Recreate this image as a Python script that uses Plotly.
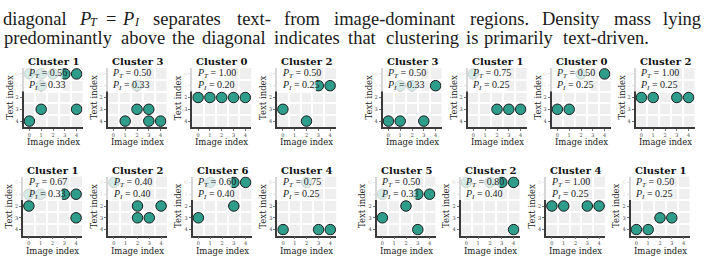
import plotly.graph_objects as go

# ---------------- data ----------------
titles = ["Cluster 1", "Cluster 3", "Cluster 0", "Cluster 2", "Cluster 3", "Cluster 1", "Cluster 0", "Cluster 2",
          "Cluster 1", "Cluster 2", "Cluster 6", "Cluster 4", "Cluster 5", "Cluster 2", "Cluster 4", "Cluster 1"]
p_text = [0.56, 0.50, 1.00, 0.50, 0.50, 0.75, 0.50, 1.00,
          0.67, 0.40, 0.60, 0.75, 0.50, 0.80, 1.00, 0.50]
p_image = [0.33, 0.33, 0.20, 0.25, 0.33, 0.25, 0.25, 0.25,
           0.33, 0.40, 0.40, 0.25, 0.33, 0.40, 0.25, 0.25]
image_idx = [
    [0, 1, 2, 3, 4, 1, 1, 4, 0],
    [2, 2, 3, 1, 3, 4],
    [0, 1, 2, 3, 4],
    [3, 4, 0, 2],
    [1, 2, 4, 0, 1, 3],
    [0, 2, 3, 4],
    [2, 4, 0, 1],
    [0, 1, 3, 4],
    [0, 1, 3, 4, 0, 4],
    [0, 2, 4, 2, 3],
    [1, 3, 4, 3, 0],
    [2, 0, 3, 4],
    [0, 3, 4, 2, 0, 3],
    [0, 2, 3, 4, 4],
    [0, 1, 3, 4],
    [0, 1, 2, 3],
]
text_idx = [
    [0, 0, 0, 0, 0, 1, 3, 3, 4],
    [1, 3, 3, 4, 4, 4],
    [2, 2, 2, 2, 2],
    [1, 1, 3, 4],
    [1, 1, 1, 4, 4, 4],
    [0, 3, 3, 3],
    [0, 0, 3, 3],
    [2, 2, 2, 2],
    [1, 1, 1, 1, 2, 3],
    [0, 2, 2, 3, 3],
    [0, 0, 0, 2, 3],
    [0, 4, 4, 4],
    [1, 1, 1, 2, 3, 4],
    [0, 0, 0, 0, 4],
    [2, 2, 2, 2],
    [4, 4, 3, 3],
]
tick_vals = [0, 1, 2, 3, 4]
tick_labels = ["0", "1", "2", "3", "4"]

line1_words = ["diagonal", "<i>P</i>", "<i>T</i>", "=", "<i>P</i>", "<i>I</i>", "separates", "text-",
               "from", "image-dominant", "regions.", "Density", "mass", "lying"]
line2_words = ["predominantly", "above", "the", "diagonal", "indicates", "that", "clustering", "is",
               "primarily", "text-driven."]

# ---------------- layout geometry (pixels) ----------------
W, H = 704, 258
line1_cx = [34.5, 85.0, 94.4, 110.7, 128.2, 136.6, 187.2, 253.6, 302.4, 395.3, 499.7, 571.4, 632.2, 682.3]
line1_size = [18.5, 18.5, 12, 18.5, 18.5, 12, 18.5, 18.5, 18.5, 18.5, 18.5, 18.5, 18.5, 18.5]
line1_dy = [0, 0, 3, 0, 0, 3, 0, 0, 0, 0, 0, 0, 0, 0]
line2_cx = [58.4, 143, 183.5, 234.2, 306.5, 362.6, 422.2, 471.5, 519, 605.9]
line_mid_y = [19.0, 38.0]
row_top = [68, 176.5]
plot_w, plot_h = 59, 59
col_centers = [[53, 137, 221.7, 306.5, 412, 497, 581, 665],
               [52.5, 137.5, 222, 306.7, 406, 490, 575.5, 660]]

SERIF = "DejaVu Serif"
TEXT_SERIF = "Liberation Serif"
TEAL = "#2e9d8c"


def px(x):
    return x / W


def py(y):
    return 1 - y / H


fig = go.Figure()
shapes = []
annotations = []
layout_axes = {}

for i in range(16):
    r, c = divmod(i, 8)
    k = i + 1
    cx = col_centers[r][c]
    left, right = cx - plot_w / 2, cx + plot_w / 2
    top = row_top[r]
    bottom = top + plot_h
    cell = plot_h / 5
    xa = "x" if k == 1 else f"x{k}"
    ya = "y" if k == 1 else f"y{k}"
    fig.add_trace(go.Scatter(
        x=image_idx[i], y=text_idx[i], mode="markers", xaxis=xa, yaxis=ya,
        marker=dict(size=10.5, color=TEAL, line=dict(color="#1a1a1a", width=1)),
        showlegend=False, hoverinfo="skip"))
    common = dict(
        tickmode="array", tickvals=tick_vals, ticktext=tick_labels,
        tickfont=dict(family=SERIF, size=5, color="#444"),
        ticks="outside", ticklen=2, tickwidth=0.6, tickcolor="#777",
        showgrid=False, zeroline=False, showline=True, linecolor="#3a3a3a", linewidth=1.5,
        minor=dict(tickmode="array", tickvals=[0.5, 1.5, 2.5, 3.5], showgrid=True,
                   gridcolor="white", gridwidth=1.6, ticks=""),
        fixedrange=True,
    )
    layout_axes["xaxis" if k == 1 else f"xaxis{k}"] = dict(
        common, domain=[px(left), px(right)], anchor=ya, range=[-0.5, 4.5])
    layout_axes["yaxis" if k == 1 else f"yaxis{k}"] = dict(
        common, domain=[py(bottom), py(top)], anchor=xa, range=[4.5, -0.5])

    # semi-transparent white text box
    shapes.append(dict(type="rect", xref="paper", yref="paper", layer="above",
                       x0=px(left - 8), x1=px(left + 39), y0=py(top + 23.5), y1=py(top - 1),
                       fillcolor="rgba(255,255,255,0.8)", line=dict(width=0)))
    annotations.append(dict(
        xref="paper", yref="paper", x=px(left + 2.5), y=py(top + cell * 0.5), xanchor="left",
        yanchor="middle", showarrow=False,
        text=f"<i>P</i><sub><i>T</i></sub> = {p_text[i]:.2f}",
        font=dict(family=TEXT_SERIF, size=10, color="#222")))
    annotations.append(dict(
        xref="paper", yref="paper", x=px(left + 2.5), y=py(top + cell * 1.5), xanchor="left",
        yanchor="middle", showarrow=False,
        text=f"<i>P</i><sub><i>I</i></sub> = {p_image[i]:.2f}",
        font=dict(family=TEXT_SERIF, size=10, color="#222")))
    annotations.append(dict(
        xref="paper", yref="paper", x=px(cx), y=py(top - 6.5), xanchor="center", yanchor="middle",
        showarrow=False, text=f"<b>{titles[i]}</b>", font=dict(family=SERIF, size=10, color="#111")))
    annotations.append(dict(
        xref="paper", yref="paper", x=px(cx), y=py(bottom + 15), xanchor="center", yanchor="middle",
        showarrow=False, text="Image index", font=dict(family=SERIF, size=8.5, color="#222")))
    annotations.append(dict(
        xref="paper", yref="paper", x=px(left - 14.5), y=py((top + bottom) / 2), xanchor="center",
        yanchor="middle", textangle=-90, showarrow=False, text="Text index",
        font=dict(family=SERIF, size=8.5, color="#222")))

for w, cxw, fs, dy in zip(line1_words, line1_cx, line1_size, line1_dy):
    annotations.append(dict(
        xref="paper", yref="paper", x=px(cxw), y=py(line_mid_y[0] + dy), xanchor="center", yanchor="middle",
        showarrow=False, text=w, font=dict(family=TEXT_SERIF, size=fs, color="#1a1a1a")))
for w, cxw in zip(line2_words, line2_cx):
    annotations.append(dict(
        xref="paper", yref="paper", x=px(cxw), y=py(line_mid_y[1]), xanchor="center", yanchor="middle",
        showarrow=False, text=w, font=dict(family=TEXT_SERIF, size=18.5, color="#1a1a1a")))

fig.update_layout(
    width=W, height=H, margin=dict(l=0, r=0, t=0, b=0),
    paper_bgcolor="white", plot_bgcolor="#efefef",
    shapes=shapes, annotations=annotations, showlegend=False,
    **layout_axes)

fig.write_html("out.html", config={"displayModeBar": False})
